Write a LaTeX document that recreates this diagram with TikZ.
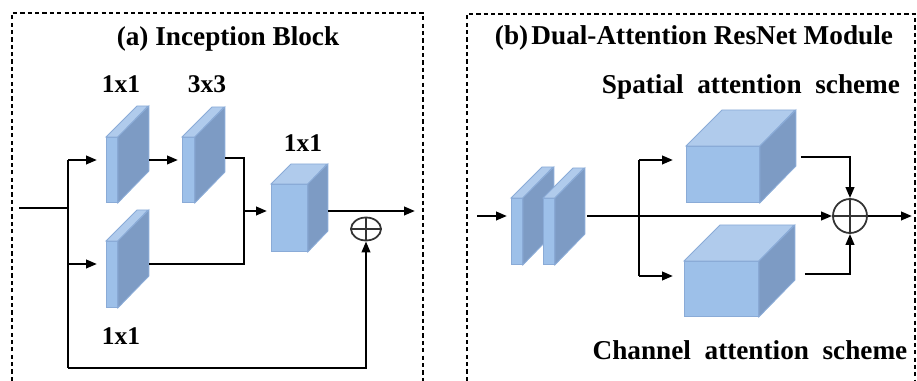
\documentclass[tikz,border=0pt]{standalone}
\usepackage{fontspec}
\setmainfont{Liberation Serif}
\usetikzlibrary{positioning,calc,arrows.meta,shapes.geometric}
\definecolor{boxfront}{HTML}{9DC0E9}
\definecolor{boxtop}{HTML}{B0CBEC}
\definecolor{boxside}{HTML}{7D9BC4}
\definecolor{boxedge}{HTML}{8AABD7}

% 3-D block: name, x, y (front top-left), width, height, depth
\newcommand{\convblock}[6]{%
  \node[frontface, anchor=north west,
        minimum width=#4*0.02cm, minimum height=#5*0.02cm] (#1) at (#2,#3) {};
  \filldraw[topface] (#1.north west) -- ++(#6,-#6) -- ++(#4,0) -- (#1.north east) -- cycle;
  \filldraw[sideface] (#1.north east) -- ++(#6,-#6) -- ++(0,#5) -- (#1.south east) -- cycle;
  \coordinate (#1-r) at ($(#1.east)+(#6,0)$);
}

\begin{document}
\begin{tikzpicture}[
  x=0.02cm, y=-0.02cm,
  frontface/.style={rectangle, draw=boxedge, fill=boxfront, line width=0.5pt, inner sep=0pt},
  topface/.style={draw=boxedge, fill=boxtop, line width=0.5pt},
  sideface/.style={draw=boxedge, fill=boxside, line width=0.5pt},
  frame/.style={line width=0.8pt, dash pattern=on 2.4pt off 1.8pt},
  ttl/.style={font=\fontsize{15.5}{18}\selectfont\bfseries, inner sep=0pt},
  lbl/.style={font=\fontsize{14.5}{17}\selectfont\bfseries, inner sep=0pt},
  wire/.style={line width=1.3pt},
  arr/.style={line width=1.3pt, -{Triangle[length=0.22cm, width=0.17cm]}},
  addop/.style={draw=black!80, line width=1pt, inner sep=0pt}
]
\useasboundingbox (0,0) rectangle (917,381);

% Dashed panels
\draw[frame] (12,381) -- (12,13) -- (423,13) -- (423,381);
\draw[frame] (467,381) -- (467,14) -- (915,14) -- (915,381);

\node[ttl, anchor=base] (titleA) at (228,46) {(a) Inception Block};
\node[ttl, anchor=base] (titleB) at (694,45) {(b)\hspace{0.12em}Dual-Attention ResNet Module};

% ---- (a) Inception block ----
\convblock{c11a}{106}{137}{11}{65}{31}
\convblock{c33}{182}{137}{12}{65}{30}
\convblock{c11b}{106}{241}{11}{66}{31}
\convblock{c11c}{271}{184}{36}{67}{20}

\node[lbl, anchor=base] (lc11a) at (121,93) {1x1};
\node[lbl, anchor=base] (lc33)  at (207,93) {3x3};
\node[lbl, anchor=base] (lc11c) at (303,152) {1x1};
\node[lbl, anchor=base] (lc11b) at (121,345) {1x1};

\node[addop, ellipse, minimum width=30*0.02cm, minimum height=23*0.02cm] (addA) at (366,229) {};
\draw[addop] (addA.north) -- (addA.south) (addA.west) -- (addA.east);

\coordinate (inA)   at (19,208);
\coordinate (forkA) at (68,208);
\coordinate (ftop)  at (68,160);
\coordinate (fmid)  at (68,264);
\coordinate (fbot)  at (68,368);
\coordinate (m1)    at (244,158);
\coordinate (m2)    at (244,264);
\coordinate (m3)    at (244,211);
\coordinate (outA)  at (415,211);

\draw[wire] (inA) -- (forkA);
\draw[wire] (ftop) -- (fbot);
\draw[arr, shorten >=0.18cm] (ftop) -- (ftop -| c11a.west);
\draw[arr, shorten >=0.08cm] (ftop -| c11a-r) -- (ftop -| c33.west);
\draw[arr, shorten >=0.18cm] (fmid) -- (fmid -| c11b.west);
\draw[wire] (m1 -| c33-r) -- (m1) -- (m2) -- (m2 -| c11b-r);
\draw[arr, shorten >=0.08cm] (m3) -- (m3 -| c11c.west);
\draw[arr] (m3 -| c11c-r) -- (outA);
\draw[arr] (fbot) -- (fbot -| addA) -- (addA.south);

% ---- (b) Dual-attention ResNet module ----
\convblock{rb1}{511}{198}{11}{66}{31}
\convblock{rb2}{543}{198}{11}{66}{30}
\convblock{spat}{686}{146}{73}{56}{36}
\convblock{chan}{684}{261}{74}{55}{36}

\node[ttl, anchor=base] (lspat) at (751,94) {Spatial~~attention~~scheme};
\node[ttl, anchor=base] (lchan) at (750,360) {Channel~~attention~~scheme};

\node[addop, circle, minimum size=34*0.02cm] (addB) at (850,216) {};
\draw[addop] (addB.north) -- (addB.south) (addB.west) -- (addB.east);

\coordinate (inB)  at (477,216);
\coordinate (bt)   at (639,160);
\coordinate (bb)   at (639,276);
\coordinate (jt)   at (850,157);
\coordinate (jb)   at (850,274);
\coordinate (outB) at (912,216);

\draw[arr, shorten >=0.08cm] (inB) -- (inB -| rb1.west);
\draw[arr, shorten <=0.04cm] (addB -| rb2-r) -- (addB.west);
\draw[wire] (bt) -- (bb);
\draw[arr, shorten >=0.26cm] (bt) -- (bt -| spat.west);
\draw[arr, shorten >=0.22cm] (bb) -- (bb -| chan.west);
\draw[arr, shorten <=0.1cm] (jt -| spat-r) -- (jt) -- (addB.north);
\draw[arr, shorten <=0.2cm] (jb -| chan-r) -- (jb) -- (addB.south);
\draw[arr] (addB.east) -- (outB);
\end{tikzpicture}
\end{document}
